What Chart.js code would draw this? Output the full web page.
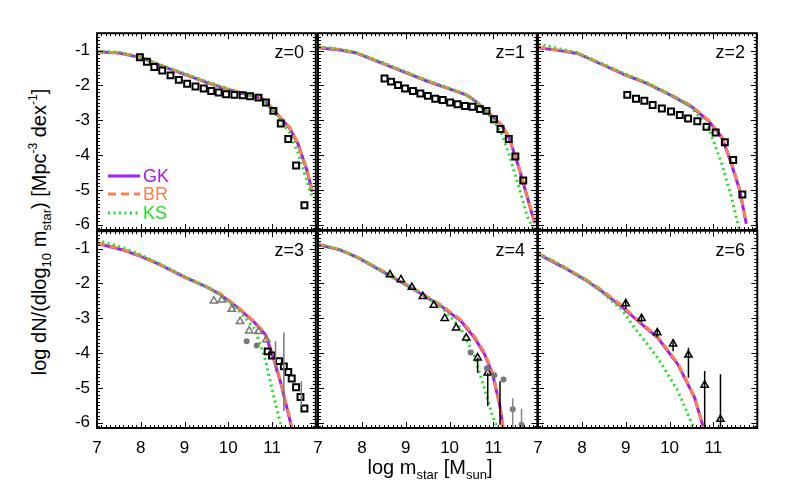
<!DOCTYPE html>
<html><head><meta charset="utf-8">
<script src="https://cdn.jsdelivr.net/npm/chart.js@4.4.0/dist/chart.umd.min.js"></script>
<style>
body{margin:0;background:#fff;width:789px;height:491px;position:relative;overflow:hidden;font-family:"Liberation Sans",Arial,Helvetica,sans-serif;}
canvas{position:absolute;}
.t{position:absolute;color:#000;white-space:nowrap;line-height:1;}
.sub{font-size:13px;vertical-align:-5px;}
.sup{font-size:12px;vertical-align:9px;}
</style></head><body>
<script>
// ---------- tick labels ----------
const xTicks = [7, 8, 9, 10, 11];
const yTicks = [-6, -5, -4, -3, -2, -1];
const panelLabels = ['z=0', 'z=1', 'z=2', 'z=3', 'z=4', 'z=6'];
const seriesNames = ['GK', 'BR', 'KS'];

// ---------- z=0 ----------
const z0_mass = [7.0, 7.5, 8.0, 8.5, 9.0, 9.5, 10.0, 10.5, 10.8, 11.0, 11.2, 11.4, 11.6, 11.8, 11.92];
const z0_GK = [-1.03, -1.07, -1.2, -1.45, -1.68, -1.91, -2.12, -2.28, -2.4, -2.65, -2.95, -3.22, -3.7, -4.45, -5.05];
const z0_BR = [-1.03, -1.06, -1.19, -1.44, -1.67, -1.9, -2.11, -2.28, -2.41, -2.64, -2.93, -3.2, -3.68, -4.42, -5.02];
const z0_KS = [-1.02, -1.05, -1.18, -1.43, -1.66, -1.89, -2.1, -2.29, -2.44, -2.7, -3.02, -3.35, -3.95, -4.75, -5.2];
const z0_obsX = [7.98, 8.14, 8.31, 8.49, 8.68, 8.87, 9.06, 9.25, 9.44, 9.61, 9.78, 9.95, 10.14, 10.33, 10.5, 10.69, 10.86, 11.03, 11.2, 11.37, 11.55, 11.74];
const z0_obsY = [-1.19, -1.32, -1.47, -1.57, -1.71, -1.84, -1.95, -2.03, -2.09, -2.16, -2.2, -2.25, -2.27, -2.28, -2.31, -2.35, -2.49, -2.73, -3.09, -3.54, -4.3, -5.44];

// ---------- z=1 ----------
const z1_mass = [7.0, 7.5, 7.85, 8.5, 9.0, 9.5, 10.0, 10.4, 10.6, 10.8, 11.0, 11.2, 11.36, 11.5, 11.6, 11.78, 11.95];
const z1_GK = [-0.92, -0.98, -1.06, -1.38, -1.63, -1.88, -2.1, -2.28, -2.45, -2.68, -2.92, -3.15, -3.49, -4.0, -4.4, -5.2, -5.95];
const z1_BR = [-0.9, -0.97, -1.05, -1.37, -1.62, -1.87, -2.09, -2.27, -2.44, -2.67, -2.9, -3.13, -3.47, -3.98, -4.38, -5.17, -5.92];
const z1_KS = [-0.88, -0.96, -1.04, -1.36, -1.61, -1.86, -2.08, -2.27, -2.46, -2.7, -2.98, -3.4, -3.95, -4.55, -4.95, -5.75, -6.2];
const z1_obsX = [8.52, 8.67, 8.83, 8.99, 9.17, 9.34, 9.51, 9.68, 9.85, 10.02, 10.19, 10.36, 10.53, 10.7, 10.85, 11.02, 11.17, 11.36, 11.51, 11.69];
const z1_obsY = [-1.8, -1.89, -1.99, -2.09, -2.16, -2.23, -2.3, -2.38, -2.42, -2.49, -2.54, -2.59, -2.61, -2.68, -2.73, -2.97, -3.25, -3.54, -4.04, -4.73];

// ---------- z=2 ----------
const z2_mass = [7.0, 7.5, 7.9, 8.5, 9.0, 9.5, 10.0, 10.5, 10.9, 11.2, 11.42, 11.61, 11.76];
const z2_GK = [-0.92, -1.0, -1.08, -1.42, -1.7, -1.95, -2.26, -2.6, -3.02, -3.49, -4.25, -5.01, -5.97];
const z2_BR = [-0.9, -0.99, -1.07, -1.41, -1.69, -1.94, -2.24, -2.58, -3.0, -3.47, -4.22, -4.98, -5.95];
const z2_KS = [-0.8, -0.95, -1.06, -1.4, -1.68, -1.93, -2.25, -2.62, -3.22, -4.25, -5.2, -6.2, -6.3];
const z2_obsX = [9.04, 9.24, 9.43, 9.62, 9.83, 10.04, 10.24, 10.43, 10.64, 10.85, 11.06, 11.27, 11.46, 11.67];
const z2_obsY = [-2.27, -2.38, -2.44, -2.56, -2.66, -2.75, -2.85, -2.95, -3.03, -3.19, -3.35, -3.63, -4.14, -5.13];

// ---------- z=3 ----------
const z3_mass = [7.0, 7.6, 8.0, 8.4, 9.0, 9.5, 9.8, 10.2, 10.6, 10.85, 11.03, 11.19, 11.34, 11.45];
const z3_GK = [-0.85, -1.04, -1.22, -1.44, -1.82, -2.1, -2.3, -2.68, -3.12, -3.47, -4.14, -4.81, -5.57, -6.14];
const z3_BR = [-0.83, -1.03, -1.21, -1.43, -1.81, -2.09, -2.28, -2.66, -3.1, -3.45, -4.1, -4.78, -5.54, -6.12];
const z3_KS = [-0.75, -0.98, -1.18, -1.42, -1.8, -2.1, -2.32, -2.72, -3.3, -4.2, -5.2, -6.0, -6.3, -6.3];
const z3_triX = [9.67, 9.85, 10.08, 10.27, 10.48, 10.69, 10.87];
const z3_triY = [-2.5, -2.47, -2.74, -3.09, -3.36, -3.38, -3.61];
const z3_dotX = [10.42, 10.65];
const z3_dotY = [-3.66, -3.78];
const z3_sqX = [10.9, 11.0, 11.16, 11.27, 11.37, 11.45, 11.55, 11.65, 11.74];
const z3_sqY = [-3.95, -4.07, -4.23, -4.38, -4.54, -4.73, -4.98, -5.26, -5.59];
const z3_errX = [11.08, 11.27, 11.67];
const z3_errLo = [-4.52, -5.66, -5.52];
const z3_errHi = [-3.66, -3.41, -4.81];

// ---------- z=4 ----------
const z4_mass = [7.0, 7.5, 7.92, 8.6, 9.2, 9.81, 10.26, 10.57, 10.8, 10.98, 11.14, 11.22];
const z4_GK = [-0.9, -1.05, -1.28, -1.76, -2.19, -2.66, -3.09, -3.57, -4.04, -4.61, -5.47, -6.14];
const z4_BR = [-0.88, -1.04, -1.27, -1.74, -2.17, -2.63, -3.06, -3.53, -4.0, -4.57, -5.43, -6.12];
const z4_KS = [-0.88, -1.04, -1.27, -1.75, -2.18, -2.68, -3.3, -4.1, -5.05, -5.8, -6.3, -6.3];
const z4_triX = [8.64, 8.89, 9.14, 9.39, 9.64, 9.89, 10.15, 10.38, 10.64, 10.87];
const z4_triY = [-1.76, -1.9, -2.12, -2.38, -2.63, -3.01, -3.28, -3.57, -4.14, -4.57];
const z4_dotX = [10.48, 10.85, 11.02, 11.23, 11.44, 11.64];
const z4_dotY = [-3.99, -4.44, -4.64, -4.76, -5.61, -6.06];
const z4_errX = [10.64, 10.87, 11.15];
const z4_errLo = [-4.57, -5.52, -6.06];
const z4_errHi = [-4.14, -4.57, -4.81];
const z4_grayErrX = [11.44, 11.64];
const z4_grayErrLo = [-6.15, -6.15];
const z4_grayErrHi = [-5.3, -5.6];

// ---------- z=6 ----------
const z6_mass = [7.0, 7.54, 8.07, 8.45, 8.94, 9.2, 9.73, 10.19, 10.57, 10.77];
const z6_GK = [-1.17, -1.52, -1.9, -2.23, -2.71, -3.0, -3.57, -4.33, -5.28, -6.14];
const z6_BR = [-1.15, -1.5, -1.88, -2.2, -2.67, -2.97, -3.54, -4.3, -5.25, -6.12];
const z6_KS = [-1.14, -1.5, -1.9, -2.25, -2.8, -3.28, -4.14, -5.09, -6.2, -6.3];
const z6_triX = [9.0, 9.36, 9.72, 10.08, 10.43, 10.8, 11.16];
const z6_triY = [-2.59, -3.01, -3.42, -3.74, -4.06, -4.92, -5.9];
const z6_errX = [9.0, 9.36, 9.72, 10.08, 10.43, 10.8, 11.16];
const z6_errLo = [-2.75, -3.12, -3.55, -3.95, -4.71, -6.15, -6.15];
const z6_errHi = [-2.45, -2.9, -3.3, -3.6, -3.85, -4.52, -4.61];

// ---------- styling ----------
const GK_COLOR = '#A020F0', BR_COLOR = '#FF7F50', KS_COLOR = '#22E022';
Chart.defaults.font.family = '"Liberation Sans", Arial, Helvetica, sans-serif';
Chart.defaults.font.size = 17;
Chart.defaults.color = '#000';

const pts = (xs, ys) => xs.map((x, i) => ({x: x, y: ys[i]}));
const bars = (xs, lo, hi) => {
  const d = [];
  xs.forEach((x, i) => { d.push({x: x, y: lo[i]}, {x: x, y: hi[i]}, {x: x, y: null}); });
  return d;
};
function models(m, gk, br, ks) {
  return [
    {data: pts(m, gk), showLine: true, borderColor: GK_COLOR, borderWidth: 3, pointRadius: 0, clip: 0, order: 3},
    {data: pts(m, br), showLine: true, borderColor: BR_COLOR, borderWidth: 3, borderDash: [8, 5], pointRadius: 0, clip: 0, order: 2},
    {data: pts(m, ks), showLine: true, borderColor: KS_COLOR, borderWidth: 3, borderDash: [2, 3.5], pointRadius: 0, clip: 0, order: 1}
  ];
}
const squares = (xs, ys) => ({data: pts(xs, ys), showLine: false, pointStyle: 'rect', pointRadius: 4.2, borderWidth: 2, borderColor: '#000', backgroundColor: 'rgba(0,0,0,0)', order: 0});
const triangles = (xs, ys, c) => ({data: pts(xs, ys), showLine: false, pointStyle: 'triangle', pointRadius: 4.2, borderWidth: 1.5, borderColor: c, backgroundColor: 'rgba(0,0,0,0)', order: 0});
const dots = (xs, ys) => ({data: pts(xs, ys), showLine: false, pointStyle: 'circle', pointRadius: 3, borderWidth: 0, backgroundColor: '#777', order: 0});
const errs = (xs, lo, hi, c) => ({data: bars(xs, lo, hi), showLine: true, spanGaps: false, borderColor: c, borderWidth: 1.5, pointRadius: 0, clip: 0, order: 0});

const panelData = [
  [...models(z0_mass, z0_GK, z0_BR, z0_KS), squares(z0_obsX, z0_obsY)],
  [...models(z1_mass, z1_GK, z1_BR, z1_KS), squares(z1_obsX, z1_obsY)],
  [...models(z2_mass, z2_GK, z2_BR, z2_KS), squares(z2_obsX, z2_obsY)],
  [...models(z3_mass, z3_GK, z3_BR, z3_KS), errs(z3_errX, z3_errLo, z3_errHi, '#777'),
    triangles(z3_triX, z3_triY, '#777'), dots(z3_dotX, z3_dotY), squares(z3_sqX, z3_sqY)],
  [...models(z4_mass, z4_GK, z4_BR, z4_KS), errs(z4_errX, z4_errLo, z4_errHi, '#000'),
    errs(z4_grayErrX, z4_grayErrLo, z4_grayErrHi, '#888'), dots(z4_dotX, z4_dotY), triangles(z4_triX, z4_triY, '#000')],
  [...models(z6_mass, z6_GK, z6_BR, z6_KS), errs(z6_errX, z6_errLo, z6_errHi, '#000'), triangles(z6_triX, z6_triY, '#000')]
];

// frame + inward ticks on all four sides
const framePlugin = {
  id: 'frame',
  afterDatasetsDraw(chart) {
    const {ctx, chartArea: a, scales: {x, y}} = chart;
    ctx.save();
    ctx.strokeStyle = '#000';
    ctx.lineWidth = 1;
    ctx.beginPath();
    for (let i = 70; i <= 120; i++) {
      const px = Math.round(x.getPixelForValue(i / 10)) + 0.5;
      const L = i % 10 === 0 ? 6 : 3;
      ctx.moveTo(px, a.top); ctx.lineTo(px, a.top + L);
      ctx.moveTo(px, a.bottom); ctx.lineTo(px, a.bottom - L);
    }
    for (let i = -61; i <= -5; i++) {
      const py = Math.round(y.getPixelForValue(i / 10)) + 0.5;
      const L = i % 10 === 0 ? 6 : 3;
      ctx.moveTo(a.left, py); ctx.lineTo(a.left + L, py);
      ctx.moveTo(a.right, py); ctx.lineTo(a.right - L, py);
    }
    ctx.stroke();
    ctx.lineWidth = 2;
    ctx.strokeRect(a.left, a.top, a.right - a.left, a.bottom - a.top);
    ctx.restore();
  }
};

const lefts = [97, 318, 538];
const tops = [32, 230];
const PW = 220, PH = 198, AXW = 40, AXH = 30;

panelData.forEach((datasets, k) => {
  const col = k % 3, row = Math.floor(k / 3);
  const cv = document.createElement('canvas');
  cv.width = AXW + PW + 5; cv.height = 5 + PH + AXH;
  cv.style.left = (lefts[col] - AXW) + 'px';
  cv.style.top = (tops[row] - 5) + 'px';
  document.body.appendChild(cv);
  new Chart(cv, {
    type: 'scatter',
    data: {datasets: datasets},
    plugins: [framePlugin],
    options: {
      responsive: false, animation: false, devicePixelRatio: 1,
      layout: {padding: {top: 5, right: 5, left: 0, bottom: 0}},
      plugins: {legend: {display: false}, tooltip: {enabled: false}},
      scales: {
        x: {
          type: 'linear', min: 7, max: 12,
          grid: {display: false, drawTicks: false}, border: {display: false},
          afterBuildTicks: s => { s.ticks = xTicks.map(v => ({value: v})); },
          afterFit: s => { s.height = AXH; s.paddingLeft = 0; s.paddingRight = 0; s.paddingTop = 0; s.paddingBottom = 0; },
          ticks: {display: row === 1, padding: 10, callback: v => String(v), maxRotation: 0, autoSkip: false}
        },
        y: {
          type: 'linear', min: -6.15, max: -0.5,
          grid: {display: false, drawTicks: false}, border: {display: false},
          afterBuildTicks: s => { s.ticks = yTicks.map(v => ({value: v})); },
          afterFit: s => { s.width = AXW; s.paddingLeft = 0; s.paddingRight = 0; s.paddingTop = 0; s.paddingBottom = 0; },
          ticks: {display: col === 0, padding: 7, callback: v => String(v), autoSkip: false}
        }
      }
    }
  });
  const lab = document.createElement('div');
  lab.className = 't';
  lab.style.fontSize = '18px';
  lab.style.right = (789 - (lefts[col] + PW) + 13) + 'px';
  lab.style.top = (tops[row] + 11) + 'px';
  lab.textContent = panelLabels[k];
  document.body.appendChild(lab);
});
</script>
<div class="t" style="left:40px;top:232px;font-size:20px;transform:translate(-50%,-50%) rotate(-90deg);">log dN/(dlog<span class="sub">10</span> m<span class="sub">star</span>) [Mpc<span class="sup">-3</span> dex<span class="sup">-1</span>]</div>
<div class="t" style="left:430px;top:457px;font-size:20px;transform:translateX(-50%);">log m<span class="sub">star</span> [M<span class="sub">sun</span>]</div>
<svg style="position:absolute;left:104px;top:165px" width="40" height="60">
  <line x1="4" y1="11" x2="36" y2="11" stroke="#A020F0" stroke-width="3"/>
  <line x1="4" y1="29" x2="36" y2="29" stroke="#FF7F50" stroke-width="3" stroke-dasharray="8 5"/>
  <line x1="4" y1="48" x2="36" y2="48" stroke="#22E022" stroke-width="3" stroke-dasharray="2 3.5"/>
</svg>
<div class="t" style="left:143px;top:167px;font-size:18px;color:#A020F0">GK</div>
<div class="t" style="left:143px;top:185px;font-size:18px;color:#FF7F50">BR</div>
<div class="t" style="left:143px;top:204px;font-size:18px;color:#22E022">KS</div>
</body></html>
